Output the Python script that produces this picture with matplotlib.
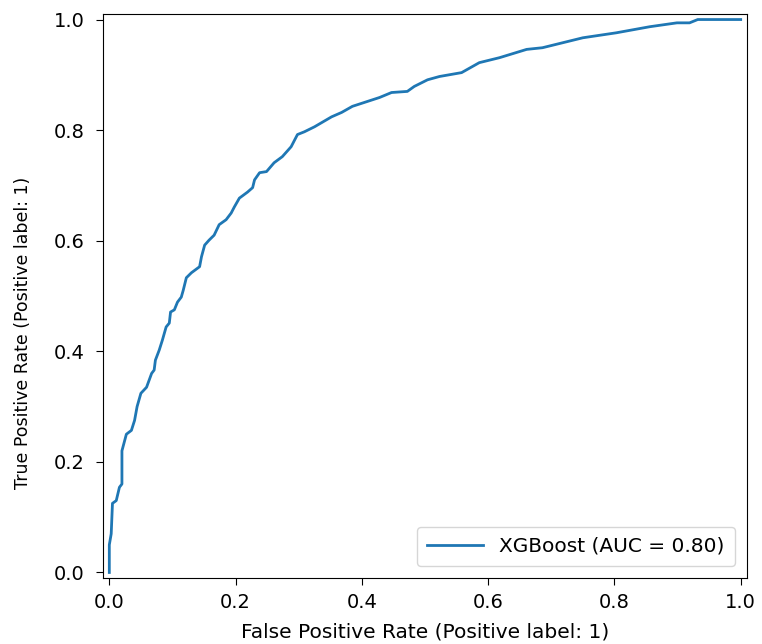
import numpy as np
import matplotlib.pyplot as plt

# ROC curve points
fpr = [0.0, 0.0, 0.003, 0.005, 0.011, 0.016, 0.02, 0.02, 0.027, 0.035, 0.04,
       0.044, 0.05, 0.059, 0.067, 0.071, 0.073, 0.079, 0.084, 0.09, 0.095,
       0.097, 0.103, 0.108, 0.114, 0.117, 0.122, 0.13, 0.143, 0.146, 0.151,
       0.158, 0.166, 0.174, 0.185, 0.193, 0.198, 0.206, 0.219, 0.227, 0.23,
       0.238, 0.249, 0.261, 0.274, 0.288, 0.298, 0.309, 0.325, 0.352, 0.368,
       0.385, 0.428, 0.447, 0.472, 0.483, 0.504, 0.523, 0.558, 0.586, 0.618,
       0.661, 0.686, 0.718, 0.75, 0.803, 0.856, 0.899, 0.919, 0.932, 1.0]
tpr = [0.0, 0.05, 0.07, 0.125, 0.13, 0.154, 0.16, 0.22, 0.25, 0.257, 0.275,
       0.30, 0.324, 0.335, 0.36, 0.366, 0.384, 0.402, 0.42, 0.444, 0.451,
       0.471, 0.475, 0.489, 0.498, 0.51, 0.533, 0.542, 0.553, 0.571, 0.592,
       0.601, 0.61, 0.629, 0.638, 0.65, 0.661, 0.677, 0.688, 0.696, 0.71,
       0.723, 0.725, 0.741, 0.752, 0.77, 0.792, 0.797, 0.806, 0.824, 0.832,
       0.843, 0.859, 0.868, 0.87, 0.879, 0.891, 0.897, 0.904, 0.922, 0.931,
       0.946, 0.949, 0.958, 0.967, 0.976, 0.987, 0.994, 0.994, 1.0, 1.0]
model_name = "XGBoost"
auc = 0.80

fig = plt.figure(figsize=(7.62, 6.44), dpi=100)
ax = fig.add_axes([103 / 762, 66 / 644, 644 / 762, 564 / 644])

ax.plot(fpr, tpr, color='#1f77b4', lw=2, label=f"{model_name} (AUC = {auc:.2f})")
ax.set_xlim(-0.01, 1.01)
ax.set_ylim(-0.01, 1.01)
ax.set_xlabel("False Positive Rate (Positive label: 1)", fontsize=14.5, labelpad=7)
ax.set_ylabel("True Positive Rate (Positive label: 1)", fontsize=12.5)
# label sits a bit below the axes centre in the reference
ax.yaxis.set_label_coords(-0.11, 0.434)
ax.tick_params(labelsize=14, length=5)
ax.tick_params(axis='x', pad=6)
ax.tick_params(axis='y', pad=8)
ax.legend(loc='lower right', fontsize=14.5, handlelength=2.8,
          borderpad=0.5, borderaxespad=0.6)

fig.savefig("out.png", dpi=100)
